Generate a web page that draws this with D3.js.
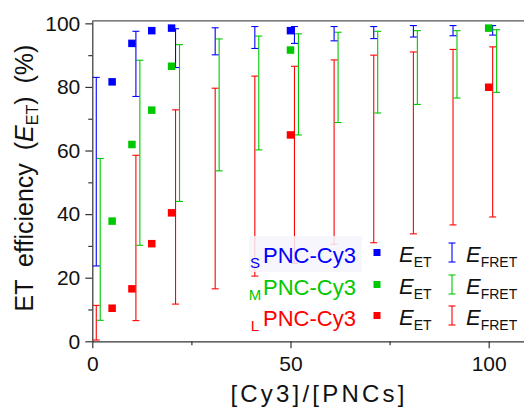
<!DOCTYPE html>
<html>
<head>
<meta charset="utf-8">
<script src="https://cdn.jsdelivr.net/npm/d3@7"></script>
<style>
  body { margin: 0; background: #fff; }
  svg { display: block; font-family: "Liberation Sans", Arial, sans-serif; }
</style>
</head>
<body>
<svg id="chart" width="524" height="410"></svg>
<script>
// ---- data ----------------------------------------------------------
// E_ET markers (squares) at [Cy3]/[PNCs]
const sEtRatio = [5, 10, 15, 20, 50];
const sEt      = [81.6, 93.7, 97.7, 98.5, 97.7];
const mEtRatio = [5, 10, 15, 20, 50, 100];
const mEt      = [37.8, 61.9, 72.7, 86.5, 91.6, 98.5];
const lEtRatio = [5, 10, 15, 20, 50, 100];
const lEt      = [10.4, 16.5, 30.7, 40.4, 64.9, 79.9];

// E_FRET ranges (vertical bars)
const sFretRatio = [1, 11, 21, 31, 41, 51, 61, 71, 81, 91, 101];
const sFretLow   = [23.7, 77.0, 86.1, 90.1, 92.1, 93.7, 94.5, 95.2, 95.7, 96.1, 96.3];
const sFretHigh  = [83.0, 97.5, 98.3, 98.6, 99.0, 99.0, 99.0, 99.0, 99.3, 99.3, 99.3];
const mFretRatio = [2, 12, 22, 32, 42, 52, 62, 72, 82, 92, 102];
const mFretLow   = [6.6, 30.2, 44.0, 53.6, 60.2, 64.9, 68.8, 71.8, 74.5, 76.5, 78.3];
const mFretHigh  = [57.5, 88.4, 93.3, 95.1, 96.0, 96.7, 97.2, 97.5, 97.7, 97.7, 98.0];
const lFretRatio = [1, 11, 21, 31, 41, 51, 61, 71, 81, 91, 101];
const lFretLow   = [0.4, 6.5, 11.7, 16.5, 20.5, 24.5, 30.5, 31.0, 33.8, 36.6, 39.1];
const lFretHigh  = [11.3, 58.5, 72.8, 79.6, 83.4, 86.5, 88.5, 90.0, 91.0, 91.8, 92.6];

const xMajorTicks = [0, 50, 100];
const xMinorTicks = [25, 75];
const yMajorTicks = [0, 20, 40, 60, 80, 100];
const yMinorTicks = [10, 30, 50, 70, 90];

const sizeLabels = ["S", "M", "L"];
const seriesName = "PNC-Cy3";

// ---- layout --------------------------------------------------------
const BLUE = "#0000ff", GREEN = "#00c800", RED = "#ff0000";
const svg = d3.select("#chart");

const x = d3.scaleLinear().domain([0, 110]).range([92.3, 92.3 + 110 * 3.964]);
const y = d3.scaleLinear().domain([0, 100.8]).range([341.3, 20.8]);

// frame top line
svg.append("line")
  .attr("x1", x(0)).attr("x2", 524)
  .attr("y1", y(100.8)).attr("y2", y(100.8))
  .attr("stroke", "#555").attr("stroke-width", 1.3);

// axes
const gx = svg.append("g").attr("transform", `translate(0,${y(0)})`);
gx.call(d3.axisBottom(x).tickValues(xMajorTicks).tickSize(7).tickSizeOuter(0).tickFormat(d3.format("d")));
const gxMinor = gx.append("g").call(d3.axisBottom(x).tickValues(xMinorTicks).tickSize(4).tickFormat(""));

const gy = svg.append("g").attr("transform", `translate(${x(0)},0)`);
gy.call(d3.axisLeft(y).tickValues(yMajorTicks).tickSize(7).tickSizeOuter(0).tickPadding(5).tickFormat(d3.format("d")));
const gyMinor = gy.append("g").call(d3.axisLeft(y).tickValues(yMinorTicks).tickSize(4).tickFormat(""));

gxMinor.select(".domain").remove();
gyMinor.select(".domain").remove();
svg.selectAll(".domain").attr("stroke", "#333").attr("stroke-width", 1.2);
svg.selectAll(".tick line").attr("stroke", "#333").attr("stroke-width", 1.2);
svg.selectAll(".tick text").attr("font-size", 21).attr("fill", "#111")
  .attr("font-family", "'Liberation Sans', Arial, sans-serif");
gx.selectAll(".tick text").attr("dy", "0.95em");

// range bars
function rangeBars(xs, lo, hi, color) {
  const g = svg.append("g").attr("stroke", color).attr("stroke-width", 1.1).attr("fill", "none");
  const cap = 3.5;
  xs.forEach((r, i) => {
    const px = x(r);
    g.append("line").attr("x1", px).attr("x2", px).attr("y1", y(lo[i])).attr("y2", y(hi[i]));
    g.append("line").attr("x1", px - cap).attr("x2", px + cap).attr("y1", y(lo[i])).attr("y2", y(lo[i]));
    g.append("line").attr("x1", px - cap).attr("x2", px + cap).attr("y1", y(hi[i])).attr("y2", y(hi[i]));
  });
}
rangeBars(lFretRatio, lFretLow, lFretHigh, RED);
rangeBars(mFretRatio, mFretLow, mFretHigh, GREEN);
rangeBars(sFretRatio, sFretLow, sFretHigh, BLUE);

// squares
function squares(xs, vals, color) {
  const s = 7.5;
  svg.append("g").selectAll("rect").data(vals).join("rect")
    .attr("x", (d, i) => x(xs[i]) - s / 2)
    .attr("y", d => y(d) - s / 2)
    .attr("width", s).attr("height", s)
    .attr("fill", color);
}
squares(sEtRatio, sEt, BLUE);
squares(mEtRatio, mEt, GREEN);
squares(lEtRatio, lEt, RED);

// legend
svg.append("rect").attr("x", 249).attr("y", 236).attr("width", 113).attr("height", 36)
  .attr("fill", "#f5f5fc").attr("fill-opacity", 0.85);

const rows = [
  { sub: sizeLabels[0], color: BLUE, base: 263 },
  { sub: sizeLabels[1], color: GREEN, base: 295 },
  { sub: sizeLabels[2], color: RED, base: 326 }
];
const lg = svg.append("g").attr("font-family", "'Liberation Sans', Arial, sans-serif");
rows.forEach(r => {
  lg.append("text").attr("x", 255).attr("y", r.base + 5).attr("text-anchor", "middle")
    .attr("font-size", 15).attr("fill", r.color).text(r.sub);
  lg.append("text").attr("x", 263).attr("y", r.base)
    .attr("font-size", 22).attr("fill", r.color).text(seriesName);
  lg.append("rect").attr("x", 377 - 3.5).attr("y", r.base - 10.5 - 3.5)
    .attr("width", 7).attr("height", 7).attr("fill", r.color);
  const t1 = lg.append("text").attr("x", 399).attr("y", r.base - 1).attr("fill", "#111");
  t1.append("tspan").attr("font-size", 22).attr("font-style", "italic").text("E");
  t1.append("tspan").attr("font-size", 14).attr("dy", 5).text("ET");
  const cy = r.base - 10.5, half = 9.5, cap = 3.5;
  const eg = lg.append("g").attr("stroke", r.color).attr("stroke-width", 1.1);
  eg.append("line").attr("x1", 452).attr("x2", 452).attr("y1", cy - half).attr("y2", cy + half);
  eg.append("line").attr("x1", 452 - cap).attr("x2", 452 + cap).attr("y1", cy - half).attr("y2", cy - half);
  eg.append("line").attr("x1", 452 - cap).attr("x2", 452 + cap).attr("y1", cy + half).attr("y2", cy + half);
  const t2 = lg.append("text").attr("x", 466).attr("y", r.base - 1).attr("fill", "#111");
  t2.append("tspan").attr("font-size", 22).attr("font-style", "italic").text("E");
  t2.append("tspan").attr("font-size", 14).attr("dy", 5).text("FRET");
});

// axis titles
svg.append("text")
  .attr("x", 319).attr("y", 402).attr("text-anchor", "middle")
  .attr("font-size", 24).attr("letter-spacing", 3.2).attr("fill", "#111")
  .text("[Cy3]/[PNCs]");

const yt = svg.append("text")
  .attr("transform", "translate(33,178) rotate(-90)")
  .attr("text-anchor", "middle").attr("font-size", 25).attr("fill", "#111")
  .attr("word-spacing", 6);
yt.append("tspan").text("ET efficiency (");
yt.append("tspan").attr("font-style", "italic").text("E");
yt.append("tspan").attr("font-size", 16).attr("dy", 5).text("ET");
yt.append("tspan").attr("dy", -5).text(") (%)");
</script>
</body>
</html>
